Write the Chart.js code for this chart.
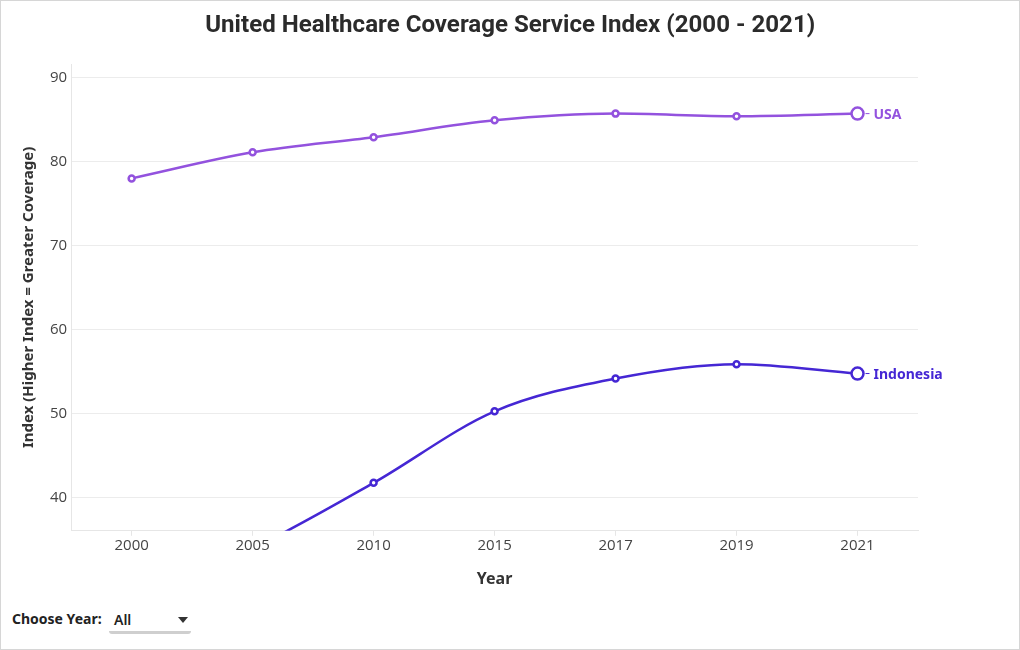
<!DOCTYPE html>
<html>
<head>
<meta charset="utf-8">
<script src="https://cdn.jsdelivr.net/npm/chart.js@4.4.0/dist/chart.umd.min.js"></script>
<style>
  html, body { margin: 0; padding: 0; background: #fff; }
  #frame { position: relative; width: 1018px; height: 648px; border: 1px solid #d6d6d6; background: #fff; overflow: hidden; }
  #title { position: absolute; left: 0; top: 10px; width: 1018px; text-align: center; font-family: Roboto, "Noto Sans", sans-serif; font-size: 23px; font-weight: 700; color: #2b2b2b; white-space: nowrap; }
  #title span { display: inline-block; transform-origin: center; }
  #chartBox { position: absolute; left: 0; top: 0; width: 1018px; height: 592px; }
  #ctrl { position: absolute; left: 11px; top: 608px; font-family: "Noto Sans", Roboto, sans-serif; font-size: 14px; color: #222; }
  #ctrl .lbl { font-weight: 700; position: absolute; left: 0; top: 0; white-space: nowrap; }
  #ctrl .sel { position: absolute; left: 97px; top: 0; width: 82px; height: 22px; border-bottom: 3px solid #cfcfcf; border-radius: 0 0 3px 3px; }
  #ctrl .sel span { position: absolute; left: 5px; top: 1px; font-weight: 600; }
  #ctrl .sel i { position: absolute; left: 69px; top: 8px; width: 0; height: 0; border-left: 5px solid transparent; border-right: 5px solid transparent; border-top: 6px solid #333; }
</style>
</head>
<body>
<div id="frame">
  <div id="chartBox"><canvas id="c" width="1018" height="592"></canvas></div>
  <div id="title"><span id="titleText">United Healthcare Coverage Service Index (2000 - 2021)</span></div>
  <div id="ctrl"><div class="lbl">Choose Year:</div><div class="sel"><span>All</span><i></i></div></div>
</div>
<script>
const years = ["2000", "2005", "2010", "2015", "2017", "2019", "2021"];
const usaValues = [78.0, 81.1, 82.9, 84.9, 85.7, 85.4, 85.7];
const indonesiaValues = [28.0, 34.0, 41.8, 50.3, 54.2, 55.9, 54.8];
const yTicks = [40, 50, 60, 70, 80, 90];
const seriesNames = ["USA", "Indonesia"];
const seriesColors = ["#9352de", "#4527d4"];

// fit title to reference width
(function () {
  const el = document.getElementById('titleText');
  const w = el.getBoundingClientRect().width;
  if (w > 0) el.style.transform = 'scaleX(' + (610 / w) + ')';
})();

const tickFont = { family: "'Open Sans', 'Noto Sans', sans-serif", size: 15, weight: '400' };

function lastBig(n) {
  return years.map((_, i) => i === n - 1 ? 6 : 3);
}

const endLabels = {
  id: 'endLabels',
  afterDatasetsDraw(chart) {
    const ctx = chart.ctx;
    chart.data.datasets.forEach((ds, i) => {
      const meta = chart.getDatasetMeta(i);
      const pt = meta.data[meta.data.length - 1];
      ctx.save();
      ctx.strokeStyle = ds.borderColor;
      ctx.lineWidth = 1;
      ctx.beginPath();
      ctx.moveTo(pt.x + 8, pt.y);
      ctx.lineTo(pt.x + 12, pt.y);
      ctx.stroke();
      ctx.fillStyle = ds.borderColor;
      ctx.font = "700 14px 'Noto Sans', Roboto, sans-serif";
      ctx.textBaseline = 'middle';
      ctx.textAlign = 'left';
      ctx.fillText(ds.label, pt.x + 16, pt.y + 1);
      ctx.restore();
    });
  }
};

new Chart(document.getElementById('c'), {
  type: 'line',
  data: {
    labels: years,
    datasets: [
      { label: seriesNames[0], data: usaValues, borderColor: seriesColors[0], backgroundColor: '#fff',
        borderWidth: 2.5, pointBorderWidth: 2.5, pointRadius: lastBig(years.length), pointBackgroundColor: '#fff',
        pointBorderColor: seriesColors[0], tension: 0.4, cubicInterpolationMode: 'monotone' },
      { label: seriesNames[1], data: indonesiaValues, borderColor: seriesColors[1], backgroundColor: '#fff',
        borderWidth: 2.5, pointBorderWidth: 2.5, pointRadius: lastBig(years.length), pointBackgroundColor: '#fff',
        pointBorderColor: seriesColors[1], tension: 0.4, cubicInterpolationMode: 'monotone' }
    ]
  },
  options: {
    responsive: false,
    animation: false,
    layout: { padding: { left: 15, right: 101, top: 63, bottom: 0 } },
    plugins: {
      legend: { display: false },
      tooltip: { enabled: false },
      title: { display: false }
    },
    scales: {
      x: {
        offset: true,
        grid: { display: true, drawOnChartArea: false, drawTicks: true, tickLength: 5, color: '#e6e6e6' },
        border: { display: true, color: '#e6e6e6' },
        ticks: { color: '#444', font: tickFont, padding: 1 },
        title: { display: true, text: 'Year', color: '#333', font: { family: "'Noto Sans', Roboto, sans-serif", size: 16, weight: '700' }, padding: { top: 14 } }
      },
      y: {
        min: 36.1,
        max: 91.6,
        afterBuildTicks(scale) { scale.ticks = yTicks.map(v => ({ value: v })); },
        grid: { color: '#ececec', drawTicks: false },
        border: { display: true, color: '#e6e6e6' },
        ticks: { color: '#444', font: tickFont, padding: 4 },
        title: { display: true, text: 'Index (Higher Index = Greater Coverage)', color: '#333', font: { family: "'Noto Sans', Roboto, sans-serif", size: 15, weight: '700' }, padding: { bottom: 8 } }
      }
    }
  },
  plugins: [endLabels]
});
</script>
</body>
</html>
